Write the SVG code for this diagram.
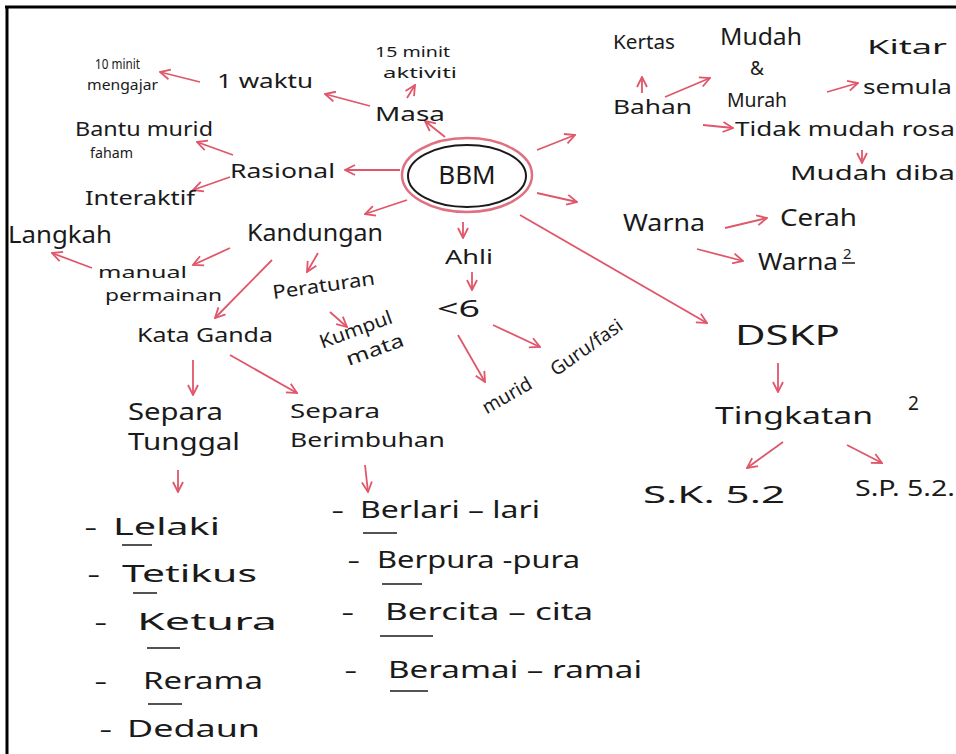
<svg xmlns="http://www.w3.org/2000/svg" width="956" height="754" viewBox="0 0 956 754">
<defs>
<marker id="ah" viewBox="0 0 12 12" refX="11" refY="6" markerWidth="12" markerHeight="12" markerUnits="userSpaceOnUse" orient="auto">
<path d="M1,1 L11,6 L1,11" fill="none" stroke="#e0566a" stroke-width="1.8"/>
</marker>
</defs>
<style>
text { font-family: "Noto Sans", "Liberation Sans", sans-serif; fill: #1a1a1a; }
.s { font-size: 14px; }
.m { font-size: 19px; }
.l { font-size: 23px; }
.c { stroke: #e0566a; stroke-width: 1.8; fill: none; marker-end: url(#ah); }
.u { stroke: #1a1a1a; stroke-width: 1.5; }
</style>
<rect width="956" height="754" fill="#ffffff"/>
<path d="M5,7 H956 M7,7 V754" stroke="#000" stroke-width="3" fill="none"/>

<g id="connectors">
<line class="c" x1="445" y1="137" x2="425" y2="121"/>
<line class="c" x1="407" y1="98" x2="415" y2="85"/>
<line class="c" x1="370" y1="106" x2="325" y2="94"/>
<line class="c" x1="200" y1="82" x2="160" y2="72"/>
<line class="c" x1="400" y1="170" x2="345" y2="170"/>
<line class="c" x1="233" y1="155" x2="197" y2="142"/>
<line class="c" x1="230" y1="177" x2="193" y2="190"/>
<line class="c" x1="407" y1="200" x2="365" y2="214"/>
<line class="c" x1="230" y1="248" x2="193" y2="265"/>
<line class="c" x1="92" y1="268" x2="52" y2="253"/>
<line class="c" x1="272" y1="260" x2="215" y2="318"/>
<line class="c" x1="318" y1="253" x2="307" y2="272"/>
<line class="c" x1="330" y1="312" x2="347" y2="327"/>
<line class="c" x1="193" y1="360" x2="193" y2="395"/>
<line class="c" x1="230" y1="355" x2="297" y2="393"/>
<line class="c" x1="178" y1="470" x2="178" y2="492"/>
<line class="c" x1="365" y1="465" x2="368" y2="492"/>
<line class="c" x1="463" y1="222" x2="463" y2="238"/>
<line class="c" x1="472" y1="272" x2="472" y2="290"/>
<line class="c" x1="458" y1="335" x2="485" y2="382"/>
<line class="c" x1="493" y1="325" x2="540" y2="347"/>
<line class="c" x1="520" y1="215" x2="707" y2="323"/>
<line class="c" x1="778" y1="363" x2="778" y2="392"/>
<line class="c" x1="783" y1="442" x2="747" y2="468"/>
<line class="c" x1="847" y1="445" x2="882" y2="463"/>
<line class="c" x1="537" y1="150" x2="575" y2="135"/>
<line class="c" x1="537" y1="193" x2="577" y2="202"/>
<line class="c" x1="642" y1="93" x2="642" y2="77"/>
<line class="c" x1="665" y1="97" x2="710" y2="78"/>
<line class="c" x1="827" y1="92" x2="858" y2="83"/>
<line class="c" x1="703" y1="125" x2="733" y2="128"/>
<line class="c" x1="862" y1="150" x2="862" y2="163"/>
<line class="c" x1="725" y1="228" x2="767" y2="218"/>
<line class="c" x1="697" y1="249" x2="743" y2="261"/>
</g>

<g id="bbm">
<ellipse cx="467" cy="175" rx="65" ry="37" fill="none" stroke="#e07080" stroke-width="2.5"/>
<ellipse cx="467" cy="176" rx="59" ry="31" fill="none" stroke="#1a1a1a" stroke-width="2"/>
<text x="467" y="184" font-size="26" text-anchor="middle">BBM</text>
</g>

<g id="masa"><text class="m" x="375" y="121" textLength="70" lengthAdjust="spacingAndGlyphs">Masa</text></g>
<g id="minit15"><text class="s" x="375" y="57" textLength="75" lengthAdjust="spacingAndGlyphs">15 minit</text><text class="s" x="383" y="78" textLength="74" lengthAdjust="spacingAndGlyphs">aktiviti</text></g>
<g id="waktu"><text class="m" x="217" y="88" textLength="96" lengthAdjust="spacingAndGlyphs">1 waktu</text></g>
<g id="minit10"><text class="s" x="95" y="69" textLength="45" lengthAdjust="spacingAndGlyphs">10 minit</text><text class="s" x="87" y="90" textLength="71" lengthAdjust="spacingAndGlyphs">mengajar</text></g>

<g id="rasional"><text class="m" x="230" y="178" textLength="105" lengthAdjust="spacingAndGlyphs">Rasional</text></g>
<g id="bantu"><text class="m" x="75" y="136" textLength="138" lengthAdjust="spacingAndGlyphs">Bantu murid</text><text class="s" x="90" y="158" textLength="43" lengthAdjust="spacingAndGlyphs">faham</text></g>
<g id="interaktif"><text class="m" x="85" y="205" textLength="110" lengthAdjust="spacingAndGlyphs">Interaktif</text></g>

<g id="kandungan"><text class="l" x="247" y="241" textLength="136" lengthAdjust="spacingAndGlyphs">Kandungan</text></g>
<g id="langkah"><text class="l" x="8" y="243" textLength="104" lengthAdjust="spacingAndGlyphs">Langkah</text></g>
<g id="manual"><text x="98" y="278" font-size="16" textLength="89" lengthAdjust="spacingAndGlyphs">manual</text><text x="105" y="301" font-size="16" textLength="117" lengthAdjust="spacingAndGlyphs">permainan</text></g>
<g id="peraturan"><text class="m" x="272" y="292" textLength="103" lengthAdjust="spacingAndGlyphs" transform="rotate(-8 323 285)">Peraturan</text></g>
<g id="kumpul"><text class="m" x="318" y="336" textLength="76" lengthAdjust="spacingAndGlyphs" transform="rotate(-20 356 330)">Kumpul</text><text class="m" x="345" y="356" textLength="60" lengthAdjust="spacingAndGlyphs" transform="rotate(-20 375 350)">mata</text></g>
<g id="kataganda"><text class="m" x="137" y="342" textLength="136" lengthAdjust="spacingAndGlyphs">Kata Ganda</text></g>

<g id="tunggal"><text class="l" x="128" y="420" textLength="95" lengthAdjust="spacingAndGlyphs">Separa</text><text class="l" x="128" y="450" textLength="112" lengthAdjust="spacingAndGlyphs">Tunggal</text></g>
<g id="berimbuhan"><text class="m" x="290" y="418" textLength="90" lengthAdjust="spacingAndGlyphs">Separa</text><text class="m" x="290" y="447" textLength="155" lengthAdjust="spacingAndGlyphs">Berimbuhan</text></g>

<g id="list-tunggal">
<text class="l" x="85" y="535">–</text><text class="l" x="113" y="535" textLength="107" lengthAdjust="spacingAndGlyphs">Lelaki</text>
<line class="u" x1="122" y1="545" x2="152" y2="545"/>
<text class="l" x="88" y="582">–</text><text class="l" x="122" y="582" textLength="135" lengthAdjust="spacingAndGlyphs">Tetikus</text>
<line class="u" x1="133" y1="593" x2="157" y2="593"/>
<text class="l" x="95" y="630">–</text><text class="l" x="137" y="630" textLength="140" lengthAdjust="spacingAndGlyphs">Ketura</text>
<line class="u" x1="147" y1="648" x2="180" y2="648"/>
<text class="l" x="95" y="689">–</text><text class="l" x="143" y="689" textLength="120" lengthAdjust="spacingAndGlyphs">Rerama</text>
<line class="u" x1="148" y1="704" x2="182" y2="704"/>
<text class="l" x="100" y="737">–</text><text class="l" x="127" y="737" textLength="133" lengthAdjust="spacingAndGlyphs">Dedaun</text>
</g>

<g id="list-berimbuhan">
<text class="l" x="332" y="518">–</text><text class="l" x="360" y="518" textLength="180" lengthAdjust="spacingAndGlyphs">Berlari – lari</text>
<line class="u" x1="363" y1="533" x2="397" y2="533"/>
<text class="l" x="348" y="568">–</text><text class="l" x="377" y="568" textLength="203" lengthAdjust="spacingAndGlyphs">Berpura -pura</text>
<line class="u" x1="382" y1="584" x2="422" y2="584"/>
<text class="l" x="342" y="620">–</text><text class="l" x="385" y="620" textLength="208" lengthAdjust="spacingAndGlyphs">Bercita – cita</text>
<line class="u" x1="380" y1="636" x2="433" y2="636"/>
<text class="l" x="345" y="678">–</text><text class="l" x="388" y="678" textLength="254" lengthAdjust="spacingAndGlyphs">Beramai – ramai</text>
<line class="u" x1="390" y1="691" x2="428" y2="691"/>
</g>

<g id="ahli"><text class="m" x="445" y="264" textLength="48" lengthAdjust="spacingAndGlyphs">Ahli</text></g>
<g id="lt6"><text class="l" x="437" y="317" textLength="43" lengthAdjust="spacingAndGlyphs">&lt;6</text></g>
<g id="murid"><text class="m" x="480" y="403" transform="rotate(-30 505 396)">murid</text></g>
<g id="guru"><text class="m" x="545" y="358" transform="rotate(-35 580 350)">Guru/fasi</text></g>

<g id="bahan"><text class="m" x="613" y="114" textLength="79" lengthAdjust="spacingAndGlyphs">Bahan</text></g>
<g id="kertas"><text class="m" x="613" y="49" textLength="62" lengthAdjust="spacingAndGlyphs">Kertas</text></g>
<g id="mudahmurah"><text class="l" x="720" y="45" textLength="82" lengthAdjust="spacingAndGlyphs">Mudah</text><text class="m" x="750" y="75">&amp;</text><text class="m" x="727" y="107" textLength="60" lengthAdjust="spacingAndGlyphs">Murah</text></g>
<g id="kitar"><text class="m" x="867" y="54" textLength="80" lengthAdjust="spacingAndGlyphs">Kitar</text><text class="m" x="863" y="94" textLength="89" lengthAdjust="spacingAndGlyphs">semula</text></g>
<g id="tidak"><text class="m" x="735" y="136" textLength="220" lengthAdjust="spacingAndGlyphs">Tidak mudah rosa</text></g>
<g id="dibawa"><text class="m" x="790" y="180" textLength="165" lengthAdjust="spacingAndGlyphs">Mudah diba</text></g>

<g id="warna"><text class="l" x="623" y="231" textLength="82" lengthAdjust="spacingAndGlyphs">Warna</text></g>
<g id="cerah"><text class="l" x="780" y="226" textLength="77" lengthAdjust="spacingAndGlyphs">Cerah</text></g>
<g id="warna2"><text class="l" x="758" y="270" textLength="80" lengthAdjust="spacingAndGlyphs">Warna</text><text x="843" y="259" font-size="15">2</text><line class="u" x1="842" y1="263" x2="855" y2="263"/></g>

<g id="dskp"><text x="735" y="345" font-size="28" textLength="105" lengthAdjust="spacingAndGlyphs">DSKP</text></g>
<g id="tingkatan"><text class="l" x="715" y="424" textLength="158" lengthAdjust="spacingAndGlyphs">Tingkatan</text><text class="m" x="908" y="410">2</text></g>
<g id="sk"><text class="l" x="643" y="503" textLength="142" lengthAdjust="spacingAndGlyphs">S.K. 5.2</text></g>
<g id="sp"><text x="855" y="496" font-size="21" textLength="100" lengthAdjust="spacingAndGlyphs">S.P. 5.2.</text></g>
</svg>
